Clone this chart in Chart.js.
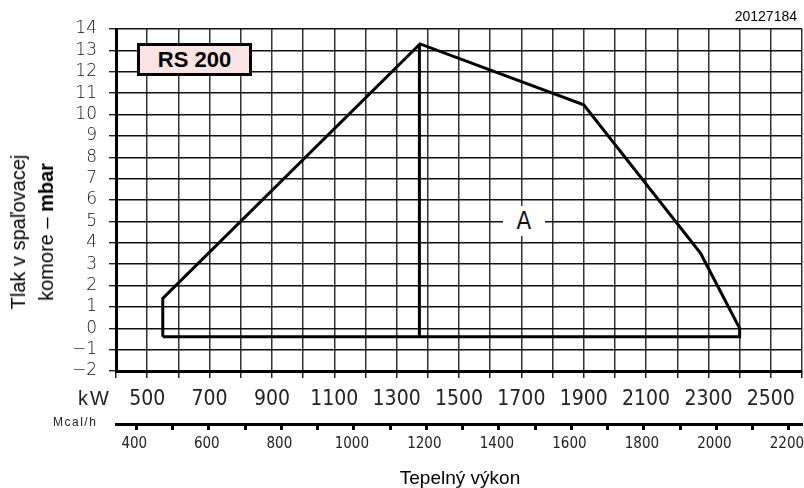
<!DOCTYPE html>
<html>
<head>
<meta charset="utf-8">
<script src="https://cdn.jsdelivr.net/npm/chart.js@4.4.0/dist/chart.umd.min.js"></script>
<style>
  body { margin: 0; background: #fff; }
  #wrap { position: relative; width: 804px; height: 488px; overflow: hidden; }
  .t { position: absolute; white-space: nowrap; color: #000; }
  #code { right: 7px; top: 8px; font: 14px "Liberation Sans", Arial, sans-serif; }
  #rs { left: 137px; top: 43px; width: 115px; height: 33px; box-sizing: border-box;
        border: 3px solid #000; background: #fde4e4; font: bold 22px "Liberation Sans", Arial, sans-serif;
        line-height: 27px; text-align: center; }
  #zone { left: 503px; top: 206px; width: 42px; height: 30px; background: #fff; text-align: center;
          font: 24px "Liberation Sans Narrow", "DejaVu Sans Condensed", sans-serif; line-height: 30px; color: #111; }
  #ytitle { left: 32px; top: 232px; transform: translate(-50%, -50%) rotate(-90deg);
            font: 20px "Liberation Sans", Arial, sans-serif; line-height: 28px; text-align: center; }
  #xtitle { left: 460px; top: 468px; transform: translateX(-50%); font: 19px "Liberation Sans", Arial, sans-serif; line-height: 20px; }
  #kw { left: 78px; top: 386px; font: 20px "Liberation Sans Narrow", sans-serif; letter-spacing: 2px; line-height: 24px; color: #222; }
  #mcal { left: 53px; top: 414px; font: 12px "Liberation Sans Narrow", sans-serif; letter-spacing: 1.5px; line-height: 16px; color: #222; }
</style>
</head>
<body>
<div id="wrap">
  <canvas id="chart"></canvas>
  <div class="t" id="code">20127184</div>
  <div class="t" id="rs">RS 200</div>
  <div class="t" id="zone">A</div>
  <div class="t" id="ytitle">Tlak v spaľovacej<br>komore – <b>mbar</b></div>
  <div class="t" id="xtitle">Tepelný výkon</div>
  <div class="t" id="kw">kW</div>
  <div class="t" id="mcal">Mcal/h</div>
</div>
<script>
// ---- data ----
const kwMin = 400, kwMax = 2600;
const kwToMcal = 0.86;
const kwLabels = [500, 700, 900, 1100, 1300, 1500, 1700, 1900, 2100, 2300, 2500];
const mcalTicks = [400, 500, 600, 700, 800, 900, 1000, 1100, 1200, 1300, 1400, 1500, 1600, 1700, 1800, 1900, 2000, 2100, 2200];
const mcalLabels = [400, 600, 800, 1000, 1200, 1400, 1600, 1800, 2000, 2200];
const mbarMin = -2, mbarMax = 14;

// working field outline (kW, mbar)
const envelopeKw   = [550, 550, 1375, 1900, 2275, 2400, 2400, 550];
const envelopeMbar = [-0.4, 1.4, 13.3, 10.45, 3.5, 0, -0.4, -0.4];
// vertical split line
const splitKw   = [1373, 1373];
const splitMbar = [13.3, -0.4];

const toPts = (xs, ys) => xs.map((x, i) => ({ x, y: ys[i] }));

const lineStyle = {
  showLine: true, borderColor: "#000", borderWidth: 3, pointRadius: 0,
  tension: 0, fill: false, borderJoinStyle: "miter"
};

// no extra side padding for edge labels: the plot runs to the right border
const noSidePad = s => { s.paddingLeft = 0; s.paddingRight = 0; };

new Chart(document.getElementById("chart"), {
  type: "scatter",
  data: {
    datasets: [
      { ...lineStyle, data: toPts(envelopeKw, envelopeMbar) },
      { ...lineStyle, data: toPts(splitKw, splitMbar) }
    ]
  },
  options: {
    responsive: true,
    maintainAspectRatio: false,
    animation: false,
    layout: { padding: { top: 29, right: 2, left: 0, bottom: 0 } },
    plugins: { legend: { display: false }, tooltip: { enabled: false } },
    scales: {
      x: {
        type: "linear", position: "bottom", weight: 0,
        min: kwMin, max: kwMax,
        afterFit: s => { s.height = 53; noSidePad(s); },
        border: { display: true, color: "#000", width: 3 },
        grid: { color: "#333", lineWidth: 1.5, tickLength: 7, tickColor: "#222", tickWidth: 1.5 },
        ticks: {
          stepSize: 100, autoSkip: false, maxRotation: 0, padding: 9, color: "#222",
          font: { family: "'Liberation Sans Narrow', 'DejaVu Sans Condensed', sans-serif", size: 21 },
          callback: v => kwLabels.includes(v) ? String(v) : ""
        }
      },
      x2: {
        type: "linear", position: "bottom", weight: 1,
        min: kwMin * kwToMcal, max: kwMax * kwToMcal,
        afterFit: s => { s.height = 64; noSidePad(s); },
        afterBuildTicks: s => { s.ticks = mcalTicks.map(v => ({ value: v })); },
        border: { display: true, color: "#000", width: 3 },
        grid: { drawOnChartArea: false, tickLength: 6, tickWidth: 3, tickColor: "#000", color: "#000" },
        ticks: {
          autoSkip: false, maxRotation: 0, padding: 5, labelOffset: -2, color: "#222",
          font: { family: "'Liberation Sans Narrow', 'DejaVu Sans Condensed', sans-serif", size: 15 },
          callback: v => mcalLabels.includes(v) ? String(v) : ""
        }
      },
      y: {
        type: "linear", min: mbarMin, max: mbarMax,
        afterFit: s => { s.width = 116; },
        border: { display: true, color: "#000", width: 3 },
        grid: { color: "#111", lineWidth: 1.4, tickLength: 7, tickColor: "#222" },
        ticks: {
          stepSize: 1, autoSkip: false, padding: 12, color: "#111",
          font: { family: "'DejaVu Sans ExtraLight', 'DejaVu Sans Light', 'DejaVu Sans', sans-serif", size: 17, weight: "200" },
          callback: v => v < 0 ? "\u2212" + Math.abs(v) : String(v)
        }
      }
    }
  }
});
</script>
</body>
</html>
